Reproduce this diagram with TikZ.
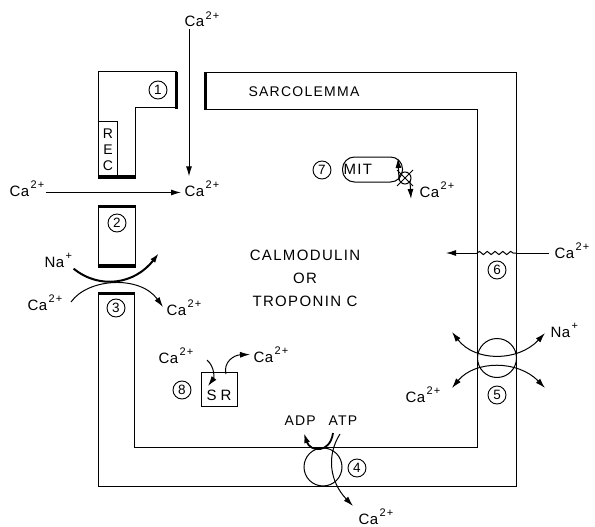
\documentclass[tikz,border=0pt]{standalone}
\usepackage{fontspec}
\setmainfont{Liberation Sans}[LetterSpace=9]
\usetikzlibrary{arrows.meta,decorations.pathmorphing}
\newcommand\caion{C\kern0.5pt a\kern1.5pt\raisebox{7.5pt}{\fontsize{11}{11}\selectfont 2\kern1pt +}}
\newcommand\naion{N\kern0.5pt a\kern1.5pt\raisebox{7.5pt}{\fontsize{11}{11}\selectfont +}}
\begin{document}
\begin{tikzpicture}[x=1pt,y=-1pt,line width=1pt,
  lbl/.style={font=\fontsize{15}{16}\selectfont, inner sep=1pt},
  captext/.style={font=\fontsize{15}{23}\selectfont, inner sep=1pt},
  num/.style={circle,draw,line width=0.9pt,inner sep=0pt,minimum size=18pt,font=\fontsize{13.5}{14}\selectfont},
  bar/.style={line width=3pt},
  arr/.style={-{Latex[length=10pt,width=6pt]}},
  darr/.style={{Latex[length=10pt,width=6pt]}-{Latex[length=10pt,width=6pt]}},
]
\useasboundingbox (0,0) rectangle (595,527);

% sarcolemma membrane
\draw (204,73) -- (516,73) -- (516,486) -- (98,486) -- (98,292);
\draw (204,110) -- (477,110) -- (477,447) -- (134,447) -- (134,292);
\draw[bar] (98,293.5) -- (134,293.5);
\draw[bar] (205.5,73) -- (205.5,110);
\node[font=\fontsize{14}{16}\selectfont,inner sep=1pt,anchor=base west] (sarc) at (247,97) {SARCOLEMMA};

% channel 1 with REC
\draw (177,72) -- (98,72) -- (98,178) -- (135,178) -- (135,108) -- (177,108);
\draw[bar] (176.5,72) -- (176.5,109.5);
\draw[bar] (98,176.5) -- (135,176.5);
\draw (98,122) -| (117,178);
\node[font=\fontsize{14}{14}\selectfont,inner sep=0pt] (recR) at (108,134) {R};
\node[font=\fontsize{14}{14}\selectfont,inner sep=0pt] (recE) at (108,150) {E};
\node[font=\fontsize{14}{14}\selectfont,inner sep=0pt] (recC) at (108,166) {C};
\node[num] (n1) at (158,90) {1};

% channel 2
\draw (98,205) rectangle (135,267);
\draw[bar] (98,206.5) -- (135,206.5);
\draw[bar] (98,265.5) -- (135,265.5);
\node[num] (n2) at (117,223) {2};
\node[num] (n3) at (116,308) {3};

% Ca entry arrows
\node[lbl,anchor=base west] (caTop) at (183,27) {\caion};
\node[lbl,anchor=base west] (caIn) at (183,196) {\caion};
\node[lbl,anchor=base west] (caL) at (8,196) {\caion};
\draw[arr] ([xshift=6pt]caTop.south west) -- ([xshift=6pt,yshift=3pt]caIn.north west);
\draw[arr] ([yshift=-4pt]caL.east) -- ([yshift=-4pt,xshift=-2pt]caIn.west);

% Na / Ca exchange at 2-3
\node[lbl,anchor=base west] (na) at (43,267) {\naion};
\coordinate (naEnd) at (159,253);
\draw[arr,line width=2pt] (na.south east) .. controls (100,290) and (135,284) .. (naEnd);
\node[lbl,anchor=base west] (caX) at (26,310) {\caion};
\node[lbl,anchor=base west] (caY) at (165,315) {\caion};
\coordinate (caXs) at (71,302);
\coordinate (caYe) at (163,307);
\draw[arr] (caXs) .. controls (88,278) and (140,275) .. (caYe);

% centre text
\node[captext,align=center] (cal) at (305,278) {CALMODULIN\\OR\\TROPONIN C};

% mitochondria 7
\node[num] (n7) at (322,170) {7};
\node[draw,rounded corners=12pt,minimum height=25pt,inner xsep=4pt,text width=58pt,anchor=west,lbl] (mit) at (342,169.5) {MIT};
\node[circle,draw,minimum size=12pt,inner sep=0pt] (ux) at (405,178) {};
\draw (ux.center) ++(-8,-8) -- ++(16,16);
\draw (ux.center) ++(8,-8) -- ++(-16,16);
\coordinate (mUp) at (398,158);
\coordinate (mDn) at (411,199);
\coordinate (mUs) at (399,180);
\coordinate (mDs) at (410,181);
\draw[arr] (mUs) -- (mUp);
\draw[arr] (mDs) -- (mDn);
\node[lbl,anchor=base west] (caM) at (418,197) {\caion};

% channel 6
\node[lbl,anchor=base west] (ca6) at (553,258) {\caion};
\coordinate (w1) at (477,253);
\coordinate (w2) at (516,253);
\coordinate (w0) at (446,253);
\draw[decorate,decoration={snake,amplitude=1.6pt,segment length=7.8pt}] (w1) -- (w2);
\draw (w2) -- ([xshift=-4pt]ca6.west |- w2);
\draw[arr] (w1) -- (w0);
\node[num] (n6) at (497,270) {6};

% exchanger 5
\node[circle,draw,minimum size=39pt,inner sep=0pt] (p5) at (497,358) {};
\coordinate (a5) at (452,332);
\coordinate (b5) at (545,333);
\coordinate (c5) at (452,388);
\coordinate (d5) at (545,388);
\draw[darr] (a5) .. controls (475,362) and (518,362) .. (b5);
\draw[darr] (c5) .. controls (475,360) and (518,360) .. (d5);
\node[lbl,anchor=base west] (na5) at (549,337) {\naion};
\node[lbl,anchor=base west] (ca5) at (404,402) {\caion};
\node[num] (n5) at (497,395) {5};

% pump 4
\node[circle,draw,minimum size=38pt,inner sep=0pt] (p4) at (323,467) {};
\node[font=\fontsize{14}{16}\selectfont,inner sep=1pt,anchor=base west] (adp) at (283,425) {ADP};
\node[font=\fontsize{14}{16}\selectfont,inner sep=1pt,anchor=base west] (atp) at (327,425) {ATP};
\coordinate (t1) at (333,433);
\coordinate (t2) at (304,433);
\draw[arr,line width=1.8pt] (t1) .. controls (330,454) and (310,452) .. (t2);
\coordinate (s1) at (340,434);
\coordinate (s2) at (353,506);
\draw[arr] (s1) .. controls (326,456) and (330,482) .. (s2);
\node[lbl,anchor=base west] (ca4) at (357,524) {\caion};
\node[num] (n4) at (357,468) {4};

% SR 8
\node[draw,inner sep=3pt,text height=25pt,text depth=3pt,minimum width=36pt,font=\fontsize{15}{16}\selectfont] (sr) at (219,389) {S\hspace{4pt}R};
\node[num] (n8) at (182,390) {8};
\node[lbl,anchor=base west] (caS1) at (157,363) {\caion};
\node[lbl,anchor=base west] (caS2) at (252,362) {\caion};
\coordinate (sr1) at (207,360);
\coordinate (sr2) at (208,386);
\draw[arr] (sr1) .. controls (215,367) and (214,378) .. (sr2);
\coordinate (sr3) at (226,374);
\draw[arr] (sr3) .. controls (223,362) and (234,355) .. ([xshift=-2pt]caS2.west);
\end{tikzpicture}
\end{document}
